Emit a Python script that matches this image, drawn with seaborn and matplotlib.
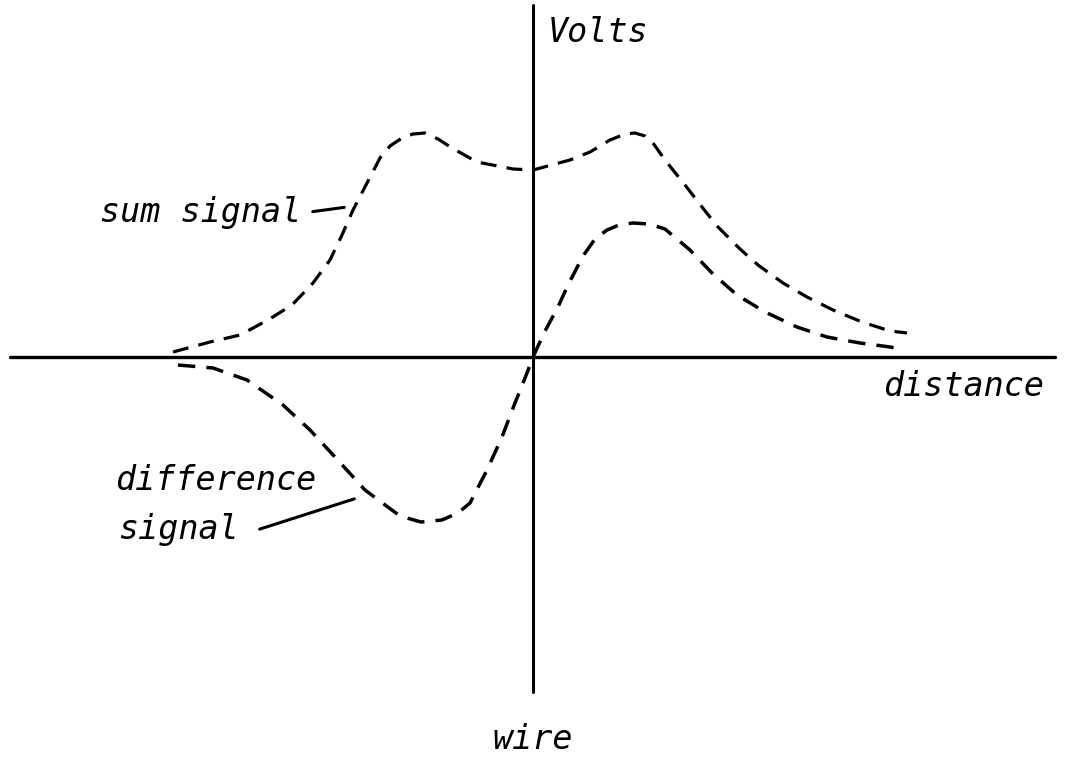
import matplotlib
matplotlib.use("Agg")
import matplotlib.pyplot as plt
import seaborn as sns

# distance from the wire and signal in volts
sum_distance = [-3.60, -3.23, -2.93, -2.65, -2.41, -2.20, -2.03, -1.91, -1.80, -1.66,
                -1.53, -1.43, -1.31, -1.20, -1.08, -0.95, -0.81, -0.56, -0.20, 0.00,
                0.37, 0.57, 0.77, 0.92, 1.02, 1.12, 1.20, 1.32, 1.52, 1.69,
                1.84, 2.07, 2.25, 2.50, 2.74, 3.00, 3.29, 3.57, 3.74]
sum_volts = [0.05, 0.15, 0.22, 0.37, 0.52, 0.74, 0.97, 1.22, 1.47, 1.74,
             1.99, 2.11, 2.19, 2.23, 2.24, 2.18, 2.09, 1.95, 1.88, 1.87,
             1.97, 2.05, 2.17, 2.23, 2.24, 2.21, 2.14, 1.97, 1.72, 1.50,
             1.31, 1.08, 0.92, 0.74, 0.60, 0.47, 0.35, 0.26, 0.24]

diff_distance = [-3.55, -3.20, -2.86, -2.50, -2.23, -1.98, -1.68, -1.33, -1.12, -0.91,
                 -0.75, -0.63, -0.46, -0.31, -0.18, -0.06, 0.00, 0.12, 0.25, 0.35,
                 0.50, 0.62, 0.74, 0.86, 1.00, 1.16, 1.32, 1.57, 1.79, 2.04,
                 2.32, 2.64, 2.94, 3.27, 3.57, 3.67]
diff_volts = [-0.08, -0.11, -0.23, -0.48, -0.73, -1.00, -1.33, -1.59, -1.65, -1.63,
              -1.56, -1.46, -1.13, -0.80, -0.46, -0.16, 0.00, 0.26, 0.50, 0.72,
              1.01, 1.18, 1.27, 1.32, 1.34, 1.33, 1.28, 1.07, 0.84, 0.62,
              0.45, 0.30, 0.20, 0.14, 0.10, 0.08]

sns.set_theme(style="white")
plt.rcParams['font.family'] = ['DejaVu Sans Mono']

fig = plt.figure(figsize=(10.67, 7.57), dpi=100)
ax = fig.add_axes([0, 0, 1, 1])
ax.set_xlim(-5.33, 5.34)
ax.set_ylim(-4.00, 3.57)
ax.axis('off')

dash = (0, (5, 3.2))
sns.lineplot(x=sum_distance, y=sum_volts, ax=ax, color='black', linewidth=2.3,
             linestyle=dash, sort=False, estimator=None)
sns.lineplot(x=diff_distance, y=diff_volts, ax=ax, color='black', linewidth=2.5,
             linestyle=dash, sort=False, estimator=None)

# axes drawn as plain lines
ax.axhline(0, xmin=0.009, xmax=0.989, color='black', linewidth=2.4)
ax.axvline(0, ymin=0.086, ymax=0.993, color='black', linewidth=2.2)

txt = dict(fontsize=24, fontstyle='italic', color='black')
ax.text(0.15, 3.25, 'Volts', ha='left', va='center', **txt)
ax.text(3.50, -0.29, 'distance', ha='left', va='center', **txt)
ax.text(0.0, -3.92, 'wire', ha='center', va='baseline', **txt)
ax.text(-4.33, 1.45, 'sum signal', ha='left', va='center', **txt)
ax.text(-4.18, -1.23, 'difference', ha='left', va='center', **txt)
ax.text(-4.15, -1.73, 'signal', ha='left', va='center', **txt)

# leader lines from labels to curves
ax.annotate('', xy=(-1.86, 1.50), xytext=(-2.23, 1.45),
            arrowprops=dict(arrowstyle='-', color='black', linewidth=2.2))
ax.annotate('', xy=(-1.76, -1.41), xytext=(-2.76, -1.73),
            arrowprops=dict(arrowstyle='-', color='black', linewidth=2.2))

fig.savefig('out.png', dpi=100, facecolor='white')
